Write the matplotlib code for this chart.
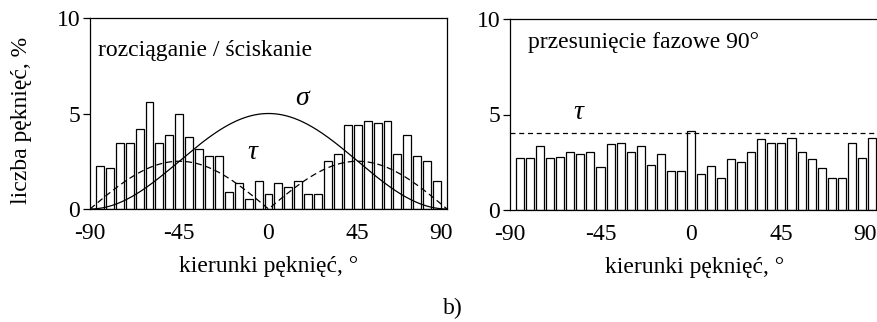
import matplotlib
matplotlib.use('Agg')
import matplotlib.pyplot as plt
import matplotlib.transforms as mtransforms
import numpy as np

plt.rcParams['font.family'] = ['Liberation Serif', 'DejaVu Serif']
plt.rcParams['font.size'] = 17
plt.rcParams['axes.unicode_minus'] = False

# crack direction histograms, bins every 5 deg
angles_a = np.arange(-85, 90, 5)
counts_a = [2.25, 2.15, 3.45, 3.45, 4.2, 5.6, 3.45, 3.9, 5.0, 3.75,
            3.15, 2.75, 2.75, 0.9, 1.35, 0.5, 1.45, 0.8, 1.35, 1.15,
            1.45, 0.8, 0.8, 2.5, 2.9, 4.4, 4.4, 4.63, 4.5, 4.63,
            2.9, 3.9, 2.8, 2.5, 1.45]

angles_b = np.arange(-85, 95, 5)
counts_b = [2.7, 2.7, 3.35, 2.7, 2.77, 3.05, 2.91, 3.05, 2.26, 3.47,
            3.53, 3.03, 3.35, 2.35, 2.91, 2.06, 2.06, 4.16, 1.9, 2.28,
            1.69, 2.65, 2.52, 3.03, 3.7, 3.5, 3.5, 3.76, 3.03, 2.66,
            2.22, 1.68, 1.68, 3.5, 2.74, 3.76]

sigma_max = 5.0   # normal stress curve amplitude
tau_max = 2.5     # shear stress curve amplitude
tau_const = 4.05  # shear level for 90 deg phase shift

xticks = [-90, -45, 0, 45, 90]
yticks = [0, 5, 10]

fig = plt.figure(figsize=(8.78, 3.22), dpi=100)
W, H = 878, 322
ax1 = fig.add_axes([90 / W, 1 - 209 / H, 357 / W, 191 / H])
ax2 = fig.add_axes([510 / W, 1 - 210 / H, 370 / W, 191 / H])


def style(ax, xmax, last_shift):
    ax.set_xlim(-90, xmax)
    ax.set_ylim(0, 10)
    ax.set_xticks(xticks)
    ax.set_yticks(yticks)
    ax.tick_params(axis='x', length=0, pad=10)
    ax.tick_params(axis='y', length=5, width=0.9, direction='out', pad=2)
    for s in ax.spines.values():
        s.set_linewidth(0.9)
    # pull the "90" label a bit inward
    lab = ax.get_xticklabels()[-1]
    off = mtransforms.ScaledTranslation(-last_shift / 100, 0, fig.dpi_scale_trans)
    lab.set_transform(lab.get_transform() + off)
    ax.set_xlabel('kierunki pęknięć, °')
    ax.xaxis.set_label_coords(0.5, -0.30)
    ax.xaxis.label.set_va('center')


# left: tension / compression
ax1.bar(angles_a, counts_a, width=4.0, color='white', edgecolor='black', linewidth=0.9)
th = np.linspace(-90, 90, 361)
r = np.radians(th)
ax1.plot(th, sigma_max * np.cos(r) ** 2, color='black', lw=0.9)
ax1.plot(th, tau_max * np.abs(np.sin(2 * r)), color='black', lw=0.9, ls=(0, (5, 3)))
ax1.text(-86, 8.3, 'rozciąganie / ściskanie', va='center', ha='left')
ax1.text(17, 5.8, 'σ', fontsize=20, style='italic', ha='center', va='center')
ax1.text(-8, 2.95, 'τ', fontsize=20, style='italic', ha='center', va='center')
style(ax1, 90, 6)

# right: 90 deg phase shift
ax2.bar(angles_b, counts_b, width=4.0, color='white', edgecolor='black', linewidth=0.9)
ax2.axhline(tau_const, color='black', lw=0.9, ls=(0, (4, 3)))
ax2.text(-81, 8.75, 'przesunięcie fazowe 90°', va='center', ha='left')
ax2.text(-56, 5.1, 'τ', fontsize=20, style='italic', ha='center', va='center')
style(ax2, 94, 7)

fig.text(22 / W, 1 - 120 / H, 'liczba pęknięć, %', rotation=90, ha='center', va='center')
fig.text(453 / W, 1 - 308 / H, 'b)', ha='center', va='center')

fig.savefig('out.png', dpi=100)
